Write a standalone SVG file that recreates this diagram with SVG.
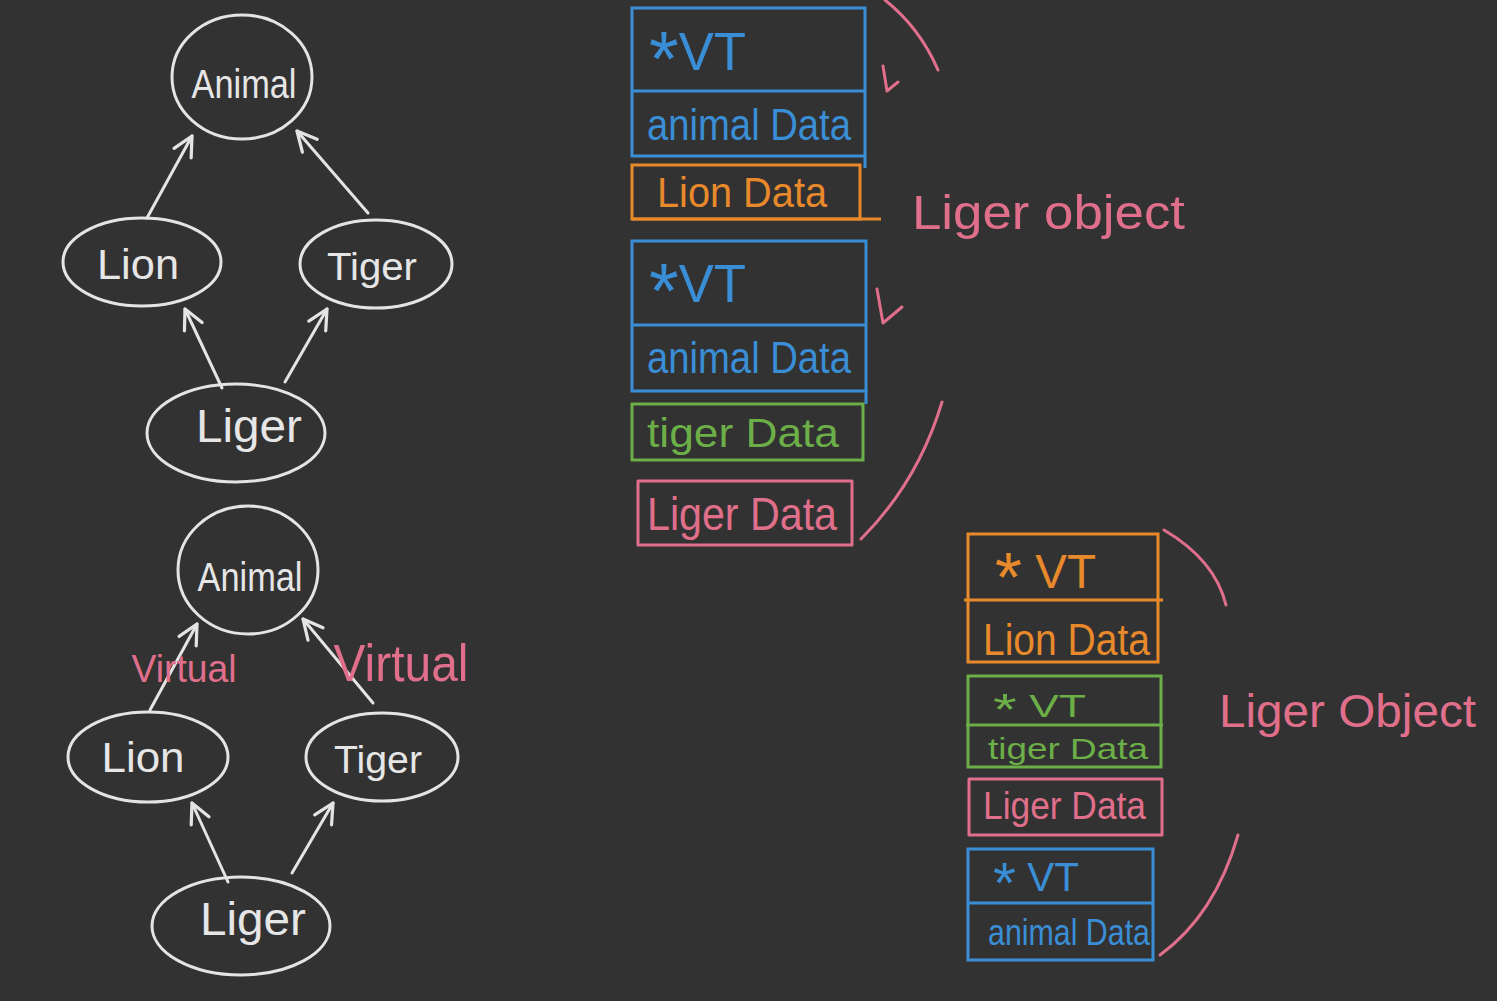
<svg xmlns="http://www.w3.org/2000/svg" width="1497" height="1001" viewBox="0 0 1497 1001">
<style>
.bg{fill:#323232}
.node{fill:none;stroke:#e4e4e4;stroke-width:3}
.lbl{font-family:"Liberation Sans",Arial,sans-serif;fill:#e6e6e6}
.t{font-family:"Liberation Sans",Arial,sans-serif}
.edge{fill:none;stroke:#e4e4e4;stroke-width:3;stroke-linecap:round}
.blue{fill:none;stroke:#3a8ed6;stroke-width:3}
.orange{fill:none;stroke:#e8892b;stroke-width:3}
.green{fill:none;stroke:#6cae47;stroke-width:3}
.pink{fill:none;stroke:#e06f8b;stroke-width:3;stroke-linecap:round;stroke-linejoin:round}
.tb{fill:#3a8ed6}.to{fill:#e8892b}.tg{fill:#6cae47}.tp{fill:#e06f8b}
</style>
<defs>
<marker id="arr" viewBox="0 0 24 24" refX="21" refY="12" markerWidth="26" markerHeight="26" markerUnits="userSpaceOnUse" orient="auto">
<path d="M3,3 L21,12 L3,21" fill="none" stroke="#e4e4e4" stroke-width="3" stroke-linecap="round" stroke-linejoin="round"/>
</marker>
</defs>
<rect class="bg" x="0" y="0" width="1497" height="1001"/>

<!-- top inheritance graph -->
<g id="animal1"><ellipse class="node" cx="242" cy="77" rx="70" ry="62"/><text class="lbl" x="244" y="98" font-size="40" text-anchor="middle" textLength="105" lengthAdjust="spacingAndGlyphs">Animal</text></g>
<g id="lion1"><ellipse class="node" cx="142" cy="262" rx="79" ry="44"/><text class="lbl" x="138" y="279" font-size="42" text-anchor="middle" textLength="82" lengthAdjust="spacingAndGlyphs">Lion</text></g>
<g id="tiger1"><ellipse class="node" cx="376" cy="264" rx="76" ry="44"/><text class="lbl" x="372" y="280" font-size="38" text-anchor="middle" textLength="90" lengthAdjust="spacingAndGlyphs">Tiger</text></g>
<g id="liger1"><ellipse class="node" cx="236" cy="433" rx="89" ry="49"/><text class="lbl" x="249" y="442" font-size="46" text-anchor="middle" textLength="106" lengthAdjust="spacingAndGlyphs">Liger</text></g>

<!-- bottom inheritance graph -->
<g id="animal2"><ellipse class="node" cx="248" cy="570" rx="70" ry="64"/><text class="lbl" x="250" y="591" font-size="40" text-anchor="middle" textLength="105" lengthAdjust="spacingAndGlyphs">Animal</text></g>
<g id="lion2"><ellipse class="node" cx="148" cy="757" rx="80" ry="45"/><text class="lbl" x="143" y="772" font-size="42" text-anchor="middle" textLength="83" lengthAdjust="spacingAndGlyphs">Lion</text></g>
<g id="tiger2"><ellipse class="node" cx="382" cy="757" rx="76" ry="44"/><text class="lbl" x="378" y="773" font-size="38" text-anchor="middle" textLength="88" lengthAdjust="spacingAndGlyphs">Tiger</text></g>
<g id="liger2"><ellipse class="node" cx="241" cy="926" rx="89" ry="49"/><text class="lbl" x="253" y="935" font-size="46" text-anchor="middle" textLength="106" lengthAdjust="spacingAndGlyphs">Liger</text></g>

<g id="connectors">
<line class="edge" x1="147" y1="218" x2="192" y2="136" marker-end="url(#arr)"/>
<line class="edge" x1="368" y1="213" x2="297" y2="131" marker-end="url(#arr)"/>
<line class="edge" x1="222" y1="388" x2="185" y2="309" marker-end="url(#arr)"/>
<line class="edge" x1="285" y1="382" x2="327" y2="309" marker-end="url(#arr)"/>
<line class="edge" x1="150" y1="710" x2="197" y2="624" marker-end="url(#arr)"/>
<line class="edge" x1="373" y1="703" x2="303" y2="619" marker-end="url(#arr)"/>
<line class="edge" x1="228" y1="882" x2="192" y2="803" marker-end="url(#arr)"/>
<line class="edge" x1="292" y1="873" x2="333" y2="803" marker-end="url(#arr)"/>
</g>

<g id="virtual-labels">
<text class="t tp" x="184" y="682" font-size="38" text-anchor="middle" textLength="105" lengthAdjust="spacingAndGlyphs">Virtual</text>
<text class="t tp" x="401" y="681" font-size="52" text-anchor="middle" textLength="135" lengthAdjust="spacingAndGlyphs">Virtual</text>
</g>

<!-- top memory layout -->
<g id="vt1"><rect class="blue" x="632" y="8" width="233" height="148"/><line class="blue" x1="632" y1="91" x2="865" y2="91"/><line class="blue" x1="865" y1="156" x2="865" y2="168"/>
<text class="t tb" x="649" y="70" font-size="54" textLength="97" lengthAdjust="spacingAndGlyphs"><tspan font-size="78" dy="16">*</tspan><tspan dy="-16">VT</tspan></text>
<text class="t tb" x="647" y="140" font-size="44" textLength="204" lengthAdjust="spacingAndGlyphs">animal Data</text></g>
<g id="liondata1"><rect class="orange" x="632" y="165" width="228" height="54"/><line class="orange" x1="632" y1="219" x2="881" y2="219"/>
<text class="t to" x="657" y="207" font-size="42" textLength="170" lengthAdjust="spacingAndGlyphs">Lion Data</text></g>
<g id="vt2"><rect class="blue" x="632" y="241" width="234" height="150"/><line class="blue" x1="632" y1="325" x2="866" y2="325"/><line class="blue" x1="866" y1="391" x2="866" y2="404"/>
<text class="t tb" x="649" y="302" font-size="54" textLength="97" lengthAdjust="spacingAndGlyphs"><tspan font-size="78" dy="16">*</tspan><tspan dy="-16">VT</tspan></text>
<text class="t tb" x="647" y="373" font-size="44" textLength="204" lengthAdjust="spacingAndGlyphs">animal Data</text></g>
<g id="tigerdata1"><rect class="green" x="632" y="404" width="231" height="56"/>
<text class="t tg" x="647" y="447" font-size="40" textLength="192" lengthAdjust="spacingAndGlyphs">tiger Data</text></g>
<g id="ligerdata1"><rect class="pink" x="638" y="481" width="214" height="64" stroke-linecap="butt"/>
<text class="t tp" x="647" y="530" font-size="46" textLength="190" lengthAdjust="spacingAndGlyphs">Liger Data</text></g>
<g id="brace1">
<path class="pink" d="M885,0 Q920,28 938,70"/>
<path class="pink" d="M942,402 Q918,482 861,539"/>
<path class="pink" d="M883,66 L887,91 L898,82"/>
<path class="pink" d="M877,289 L883,323 L902,307"/>
<text class="t tp" x="912" y="229" font-size="48" textLength="273" lengthAdjust="spacingAndGlyphs">Liger object</text>
</g>

<!-- bottom memory layout -->
<g id="liondata2"><rect class="orange" x="968" y="534" width="190" height="128"/><line class="orange" x1="964" y1="600" x2="1163" y2="600"/>
<text class="t to" x="995" y="588" font-size="48" textLength="101" lengthAdjust="spacingAndGlyphs"><tspan font-size="70" dy="14">*</tspan><tspan dy="-14"> VT</tspan></text>
<text class="t to" x="983" y="655" font-size="44" textLength="167" lengthAdjust="spacingAndGlyphs">Lion Data</text></g>
<g id="tigerdata2"><rect class="green" x="968" y="676" width="193" height="91"/><line class="green" x1="966" y1="725" x2="1163" y2="725"/>
<text class="t tg" x="993" y="717" font-size="32" textLength="93" lengthAdjust="spacingAndGlyphs"><tspan font-size="44" dy="8">*</tspan><tspan dy="-8"> VT</tspan></text>
<text class="t tg" x="988" y="759" font-size="30" textLength="160" lengthAdjust="spacingAndGlyphs">tiger Data</text></g>
<g id="ligerdata2"><rect class="pink" x="969" y="779" width="193" height="56" stroke-linecap="butt"/>
<text class="t tp" x="983" y="819" font-size="38" textLength="163" lengthAdjust="spacingAndGlyphs">Liger Data</text></g>
<g id="animaldata2"><rect class="blue" x="968" y="849" width="185" height="111"/><line class="blue" x1="968" y1="903" x2="1153" y2="903"/>
<text class="t tb" x="993" y="891" font-size="40" textLength="86" lengthAdjust="spacingAndGlyphs"><tspan font-size="58" dy="12">*</tspan><tspan dy="-12"> VT</tspan></text>
<text class="t tb" x="988" y="945" font-size="36" textLength="162" lengthAdjust="spacingAndGlyphs">animal Data</text></g>
<g id="brace2">
<path class="pink" d="M1164,530 Q1215,560 1226,605"/>
<path class="pink" d="M1238,835 Q1215,915 1160,955"/>
<text class="t tp" x="1219" y="727" font-size="46" textLength="257" lengthAdjust="spacingAndGlyphs">Liger Object</text>
</g>
</svg>
